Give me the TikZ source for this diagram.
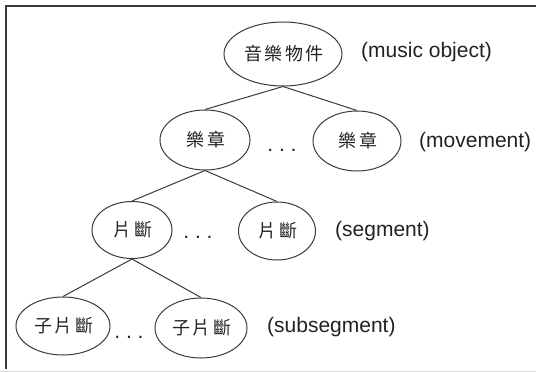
\documentclass[tikz,border=0pt]{standalone}
\usepackage{fontspec}
\setmainfont{Liberation Sans}
\newfontfamily\cjk[LetterSpace=12]{Noto Sans CJK TC}
\usetikzlibrary{shapes.geometric}
\definecolor{linegray}{HTML}{3A3A3A}
\definecolor{inkblack}{HTML}{222222}
\begin{document}
\begin{tikzpicture}[x=1pt,y=-1pt,
  unit/.style={ellipse, draw=linegray, line width=1pt, inner sep=0pt,
    font=\cjk\fontsize{18}{20}\selectfont, text=inkblack},
  lbl/.style={anchor=west, inner sep=0pt, text=inkblack,
    font=\fontsize{21}{24}\selectfont},
  dotsrow/.style={inner sep=0pt, text=inkblack, font=\fontsize{21}{24}\selectfont},
  link/.style={draw=linegray, line width=1pt},
  frame/.style={draw=linegray, line width=1.4pt}]
\useasboundingbox (0,0) rectangle (536,372);

% outer frame (left and top edges, faint bottom rule)
\draw[frame] (6,369) -- (6,6) -- (536,6);
\draw[gray!30, line width=0.8pt] (0,371) -- (536,371);

% level 1: music object
\node[unit, minimum width=118, minimum height=64] (obj) at (283,54) {\hspace{2pt}音樂物件};
\node[lbl] (lobj) at (361,52) {(music object)};

% level 2: movements
\node[unit, minimum width=90, minimum height=60] (mvA) at (205,140) {\hspace{2pt}樂章};
\node[unit, minimum width=88, minimum height=60] (mvB) at (357,141) {\hspace{2pt}樂章};
\node[dotsrow] (dmv) at (282,150) {.\ .\ .};
\node[lbl] (lmv) at (419,142) {(movement)};

% level 3: segments
\node[unit, minimum width=80, minimum height=57] (sgA) at (132,230) {\hspace{2pt}片斷};
\node[unit, minimum width=77, minimum height=58] (sgB) at (277,231) {\hspace{2pt}片斷};
\node[dotsrow] (dsg) at (198,237) {.\ .\ .};
\node[lbl] (lsg) at (335,231) {(segment)};

% level 4: subsegments
\node[unit, minimum width=94, minimum height=58] (ssA) at (63,326) {\hspace{2pt}子片斷};
\node[unit, minimum width=92, minimum height=60] (ssB) at (201,328) {\hspace{2pt}子片斷};
\node[dotsrow] (dss) at (129,337) {.\ .\ .};
\node[lbl] (lss) at (267,327) {(subsegment)};

% tree links
\draw[link] (obj.south) -- (mvA.north);
\draw[link] (obj.south) -- (mvB.north);
\draw[link] (mvA.south) -- (sgA.north);
\draw[link] (mvA.south) -- (sgB.north);
\draw[link] (sgA.south) -- (ssA.north);
\draw[link] (sgA.south) -- (ssB.north);
\end{tikzpicture}
\end{document}
